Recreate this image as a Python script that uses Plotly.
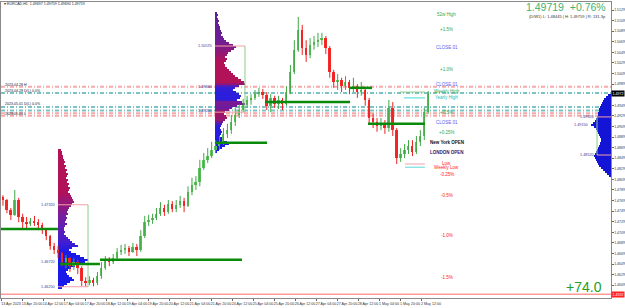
import numpy as np
import plotly.graph_objects as go

# ---------------- data ----------------
symbol_line = "\u25be EURCAD,H1  1.49697 1.49759 1.49690 1.49719"
first_open = 1.4776
close = [1.4770, 1.4751, 1.4742, 1.4770, 1.4738, 1.4728, 1.4725, 1.4730, 1.4728, 1.4723,
         1.4713, 1.4702, 1.4683, 1.4676, 1.4670, 1.4653, 1.4660, 1.4645, 1.4653, 1.4641,
         1.4617, 1.4613, 1.4619, 1.4613, 1.4626, 1.4641, 1.4657, 1.4653, 1.4660, 1.4672,
         1.4676, 1.4679, 1.4672, 1.4681, 1.4676, 1.4702, 1.4728, 1.4732, 1.4736, 1.4744,
         1.4755, 1.4747, 1.4762, 1.4753, 1.4761, 1.4768, 1.4759, 1.4785, 1.4798, 1.4804,
         1.4830, 1.4846, 1.4853, 1.4865, 1.4872, 1.4880, 1.4895, 1.4902, 1.4917, 1.4931,
         1.4940, 1.4950, 1.4959, 1.4963, 1.4970, 1.4974, 1.4968, 1.4948, 1.4963, 1.4951,
         1.4959, 1.4951, 1.4974, 1.5012, 1.5054, 1.5091, 1.5057, 1.5044, 1.5063, 1.5069,
         1.5072, 1.5076, 1.5057, 1.5012, 1.4993, 1.4997, 1.4985, 1.4993, 1.4982, 1.4985,
         1.4974, 1.4978, 1.4959, 1.4925, 1.4917, 1.4910, 1.4914, 1.4906, 1.4944, 1.4902,
         1.4849, 1.4857, 1.4865, 1.4872, 1.4861, 1.4880, 1.4891, 1.4936, 1.49719]
high = [1.4779, 1.4772, 1.4755, 1.4789, 1.4774, 1.4744, 1.4738, 1.4736, 1.4740, 1.4734,
        1.4727, 1.4717, 1.4704, 1.4689, 1.4683, 1.4672, 1.4666, 1.4662, 1.4660, 1.4657,
        1.4645, 1.4624, 1.4626, 1.4623, 1.4634, 1.4653, 1.4664, 1.4662, 1.4668, 1.4679,
        1.4685, 1.4687, 1.4683, 1.4689, 1.4687, 1.4713, 1.4740, 1.4742, 1.4744, 1.4755,
        1.4766, 1.4761, 1.4770, 1.4768, 1.4770, 1.4778, 1.4774, 1.4796, 1.4812, 1.4815,
        1.4846, 1.4859, 1.4868, 1.4880, 1.4883, 1.4891, 1.4906, 1.4914, 1.4931, 1.4944,
        1.4951, 1.4961, 1.4967, 1.4970, 1.4978, 1.4982, 1.4980, 1.4974, 1.4970, 1.4967,
        1.4967, 1.4963, 1.4985, 1.5025, 1.5072, 1.5116, 1.5101, 1.5072, 1.5076, 1.5080,
        1.5086, 1.5086, 1.5080, 1.5061, 1.5016, 1.5008, 1.5001, 1.5004, 1.4997, 1.5001,
        1.4989, 1.4993, 1.4982, 1.4963, 1.4933, 1.4925, 1.4925, 1.4921, 1.4959, 1.4955,
        1.4906, 1.4868, 1.4876, 1.4883, 1.4883, 1.4891, 1.4902, 1.4944, 1.49759]
low = [1.4759, 1.4745, 1.4732, 1.4740, 1.4728, 1.4717, 1.4715, 1.4721, 1.4721, 1.4715,
       1.4706, 1.4694, 1.4676, 1.4668, 1.4660, 1.4645, 1.4641, 1.4634, 1.4638, 1.4630,
       1.4607, 1.4606, 1.4609, 1.4607, 1.4609, 1.4621, 1.4638, 1.4645, 1.4649, 1.4657,
       1.4666, 1.4668, 1.4664, 1.4670, 1.4664, 1.4672, 1.4698, 1.4721, 1.4725, 1.4732,
       1.4740, 1.4740, 1.4744, 1.4747, 1.4747, 1.4755, 1.4747, 1.4757, 1.4779, 1.4789,
       1.4796, 1.4827, 1.4840, 1.4849, 1.4859, 1.4865, 1.4874, 1.4887, 1.4895, 1.4910,
       1.4925, 1.4936, 1.4944, 1.4950, 1.4959, 1.4965, 1.4961, 1.4940, 1.4936, 1.4944,
       1.4942, 1.4940, 1.4948, 1.4970, 1.5008, 1.5050, 1.5044, 1.5031, 1.5038, 1.5054,
       1.5059, 1.5063, 1.5046, 1.5001, 1.4982, 1.4978, 1.4974, 1.4978, 1.4970, 1.4974,
       1.4963, 1.4967, 1.4948, 1.4914, 1.4906, 1.4899, 1.4902, 1.4895, 1.4899, 1.4891,
       1.4838, 1.4842, 1.4849, 1.4857, 1.4853, 1.4857, 1.4872, 1.4883, 1.4933]
open_ = [first_open] + close[:-1]
bar_hours_step = 3  # each candle covers 3 trading hours

x_tick_hours = list(range(0, 321, 16))
x_tick_text = ["13 Apr 2023", "13 Apr 20:00", "14 Apr 12:00", "17 Apr 04:00", "17 Apr 20:00",
               "18 Apr 12:00", "19 Apr 04:00", "19 Apr 20:00", "20 Apr 12:00", "21 Apr 04:00",
               "21 Apr 20:00", "24 Apr 12:00", "25 Apr 04:00", "25 Apr 20:00", "26 Apr 12:00",
               "27 Apr 04:00", "27 Apr 20:00", "28 Apr 12:00", "1 May 04:00", "1 May 20:00",
               "2 May 12:00"]
price_scale_start, price_scale_step, price_scale_count = 1.4609, 0.0020, 27

# volume profiles (volume per price bin, top bin first)
left_prof_top, left_prof_base = 1.4865, 43.4
left_vol = [3, 4, 4, 5, 5, 6, 7, 6, 8, 7, 9, 8, 10, 9, 8, 10, 9, 11, 10, 12,
            11, 10, 12, 13, 14, 15, 16, 14, 13, 11, 10, 9, 10, 8, 9, 8, 7, 9, 7, 6,
            6, 7, 6, 8, 10, 12, 14, 17, 20, 14, 11, 13, 18, 22, 26, 30, 27, 22, 17, 13,
            10, 8, 9, 11, 14, 16, 12, 9, 6, 4]
mid_prof_top, mid_prof_base = 1.5123, 163.0
mid_vol = [2, 3, 2, 3, 4, 3, 4, 5, 5, 6, 7, 6, 8, 9, 11, 14, 18, 21, 19, 16,
           13, 12, 10, 12, 11, 9, 10, 12, 14, 16, 18, 20, 23, 26, 29, 30, 24, 20, 18, 21,
           24, 26, 25, 22, 27, 30, 22, 17, 14, 10, 9, 11, 12, 10, 8, 7, 6, 5, 6, 7,
           6, 5, 7, 9, 12, 14, 10, 7, 4, 2]
right_prof_top = 1.4968
right_vol = [3, 5, 7, 8, 9, 10, 11, 12, 12, 13, 13, 14, 15, 16, 18, 20, 17, 15, 14, 13,
             12, 11, 10, 10, 11, 12, 13, 14, 15, 16, 17, 16, 15, 14, 13, 12, 10, 8, 6, 4, 2]
prof_bin = 0.00038

# point-of-control levels (price, start hour, end hour)
poc_price = [1.4715, 1.4649, 1.4657, 1.4878, 1.4955, 1.4982, 1.4914]
poc_start = [0.0, 45.0, 75.4, 163.0, 201.1, 265.9, 279.6]
poc_end = [43.4, 75.4, 183.6, 202.7, 265.9, 282.7, 323.0]

# value-area boxes (top, bottom, start hour, end hour)
va_top = [1.4761, 1.5061, 1.4927]
va_bot = [1.4606, 1.4936, 1.4855]
va_start = [43.4, 163.0, 454.1]
va_end = [66.3, 185.9, 464.76]

# full-width pivot lines
pink_levels = [1.4984, 1.4934, 1.4929]
teal_levels = [1.4972, 1.4946, 1.4939]
red_level = 1.4592

# level labels column
lvl_text = ["52w High", "+1.5%", "CLOSE 01", "+1.0%", "CLOSE 01", "Weekly High", "Yearly High",
            "+0.5%", "CLOSE 01", "+0.25%", "New York OPEN", "LONDON OPEN", "Low", "Weekly Low",
            "-0.25%", "-0.5%", "-1.0%", "-1.5%"]
lvl_price = [1.5120, 1.5093, 1.5059, 1.5016, 1.4989, 1.4976, 1.4963, 1.4936, 1.4916, 1.4897,
             1.4879, 1.4859, 1.4839, 1.4832, 1.4819, 1.4779, 1.4702, 1.4624]
lvl_color = ["#2FA84F", "#2FA84F", "#5B5BF0", "#2FA84F", "#5B5BF0", "#2FA84F", "#10C0C0",
             "#2FA84F", "#5B5BF0", "#2FA84F", "#111111", "#1A1A7A", "#FF2020", "#FF2020",
             "#FF2020", "#FF2020", "#FF2020", "#FF2020"]

left_line_text = ["2023.04.28 H", "2023.04.28 D(L) 0.0%", "2023.05.01 D(L) 0.0%", "2023.05.01 L"]
left_line_price = [1.4988, 1.4976, 1.4951, 1.4932]

prof_label_text = ["1.47320", "1.46720", "1.46250", "1.50570", "1.49840", "1.49200",
                   "1.49520", "1.49150", "1.48520"]
prof_label_price = [1.4761, 1.4653, 1.4606, 1.5061, 1.4984, 1.4938, 1.4927, 1.4912, 1.4855]
prof_label_hour = [42.6, 42.6, 42.6, 162.3, 162.3, 162.3, 453.4, 448.8, 453.4]

# ---------------- figure ----------------
X_MAX = 464.76
Y_MIN, Y_MAX = 1.45848, 1.51442
PX_PER_HOUR = 1.3125
FONT = "Liberation Sans"

fig = go.Figure()

bar_hours = np.arange(len(close)) * bar_hours_step + bar_hours_step / 2


def grad(n, stops):
    out = []
    for i in range(n):
        f = i / max(n - 1, 1)
        for (f0, c0), (f1, c1) in zip(stops[:-1], stops[1:]):
            if f0 <= f <= f1:
                t = 0 if f1 == f0 else (f - f0) / (f1 - f0)
                cc = [int(round(a + (b - a) * t)) for a, b in zip(c0, c1)]
                out.append("rgb(%d,%d,%d)" % tuple(cc))
                break
    return out


crim, purp, blue = (178, 18, 88), (112, 30, 165), (26, 26, 232)
left_cols = grad(len(left_vol), [(0, crim), (0.3, crim), (0.5, purp), (0.66, (70, 30, 205)),
                                 (0.74, blue), (1, blue)])
mid_cols = grad(len(mid_vol), [(0, (92, 32, 150)), (0.2, (110, 30, 150)), (0.3, (150, 22, 112)),
                               (0.35, crim), (0.5, crim), (0.53, (50, 30, 215)), (0.62, (40, 30, 222)),
                               (0.64, (128, 26, 142)), (0.68, (105, 26, 165)), (0.71, (160, 20, 100)),
                               (0.77, (150, 22, 112)), (0.81, (40, 30, 222)), (1, blue)])
right_cols = ["rgb(20,20,215)"] * len(right_vol)

for top, vol, base, cols, sign in [
        (left_prof_top, left_vol, left_prof_base, left_cols, 1),
        (mid_prof_top, mid_vol, mid_prof_base, mid_cols, 1),
        (right_prof_top, right_vol, X_MAX, right_cols, -1)]:
    levels = top - np.arange(len(vol)) * prof_bin
    fig.add_trace(go.Bar(
        y=levels, x=[sign * v / PX_PER_HOUR for v in vol], base=base, orientation="h",
        width=prof_bin, marker=dict(color=cols, line=dict(width=0)), showlegend=False,
        hoverinfo="skip"))

# candles: wicks + bodies
o = np.array(open_)
c = np.array(close)
h = np.array(high)
l = np.array(low)
up = c >= o
for mask, wick_col, body_col in [(up, "#3FA845", "#5FC35F"), (~up, "#F02020", "#F52A2A")]:
    wx, wy = [], []
    for xi, hi, li in zip(bar_hours[mask], h[mask], l[mask]):
        wx += [xi, xi, None]
        wy += [li, hi, None]
    fig.add_trace(go.Scatter(x=wx, y=wy, mode="lines", line=dict(color=wick_col, width=1),
                             showlegend=False, hoverinfo="skip"))
    bot = np.minimum(o[mask], c[mask])
    ht = np.maximum(np.abs(c[mask] - o[mask]), 0.00008)
    fig.add_trace(go.Bar(x=bar_hours[mask], y=ht, base=bot, width=1.45,
                         marker=dict(color=body_col, line=dict(width=0)),
                         showlegend=False, hoverinfo="skip"))

shapes = []
dd = "4px,2px,1px,2px"
for lv in pink_levels:
    shapes.append(dict(type="line", xref="paper", x0=0, x1=1, yref="y", y0=lv, y1=lv,
                       line=dict(color="#F6A9A9", width=2, dash=dd), layer="below"))
for lv in teal_levels:
    shapes.append(dict(type="line", xref="paper", x0=0, x1=1, yref="y", y0=lv, y1=lv,
                       line=dict(color="#7CC4C4", width=2, dash=dd), layer="below"))
shapes.append(dict(type="line", xref="paper", x0=0, x1=1, yref="y", y0=red_level, y1=red_level,
                   line=dict(color="#FF9A9A", width=1.5)))

for t, b, s, e in zip(va_top, va_bot, va_start, va_end):
    shapes.append(dict(type="line", x0=s, x1=e, y0=t, y1=t, line=dict(color="#F4A0A8", width=1)))
    shapes.append(dict(type="line", x0=s, x1=e, y0=b, y1=b, line=dict(color="#F4A0A8", width=1)))
    side = e if e < X_MAX - 1 else s
    shapes.append(dict(type="line", x0=side, x1=side, y0=t, y1=b,
                       line=dict(color="#8CCB8C", width=1)))

for p, s, e in zip(poc_price, poc_start, poc_end):
    shapes.append(dict(type="line", x0=s, x1=e, y0=p, y1=p, line=dict(color="#0A8A0A", width=2.5)))

# short session lines near the level column
shapes.append(dict(type="line", x0=307.0, x1=323.0, y0=1.4963, y1=1.4963, line=dict(color="#40D8D8", width=1)))
shapes.append(dict(type="line", x0=304.0, x1=323.0, y0=1.4974, y1=1.4974, line=dict(color="#8CCB8C", width=1)))
shapes.append(dict(type="line", x0=307.8, x1=323.0, y0=1.4838, y1=1.4838, line=dict(color="#F4A0A8", width=1)))
shapes.append(dict(type="line", x0=307.8, x1=323.0, y0=1.4832, y1=1.4832, line=dict(color="#60D8D8", width=1)))

ann = []
for t, p, col in zip(lvl_text, lvl_price, lvl_color):
    bold = t in ("New York OPEN", "LONDON OPEN")
    ann.append(dict(x=339.8, y=p, text=("<b>%s</b>" % t) if bold else t, showarrow=False,
                    font=dict(size=4.5, color=col, family=FONT), xanchor="center", yanchor="middle"))
for t, p in zip(left_line_text, left_line_price):
    ann.append(dict(x=0.003, xref="paper", y=p, text=t, showarrow=False,
                    font=dict(size=3.6, color="#222222", family=FONT), xanchor="left", yanchor="middle"))
for t, p, hr in zip(prof_label_text, prof_label_price, prof_label_hour):
    ann.append(dict(x=hr, y=p, text=t, showarrow=False,
                    font=dict(size=3.8, color="#3A3A9A", family=FONT), xanchor="right", yanchor="middle"))

ann.append(dict(xref="paper", yref="paper", x=0.002, y=0.993, text=symbol_line, showarrow=False,
                font=dict(size=3.6, color="#222222", family=FONT), xanchor="left", yanchor="middle"))
ann.append(dict(xref="paper", yref="paper", x=0.9955, y=0.982, text="1.49719  +0.76%", showarrow=False,
                font=dict(size=10.5, color="#3CB371", family=FONT), xanchor="right", yanchor="middle"))
ann.append(dict(xref="paper", yref="paper", x=0.9945, y=0.952,
                text="(D/W1) L: 1.48445 | H: 1.49759 | R: 131.3p", showarrow=False,
                font=dict(size=4.0, color="#333333", family=FONT), xanchor="right", yanchor="middle"))
ann.append(dict(xref="paper", yref="paper", x=0.9885, y=0.037, text="+74.0", showarrow=False,
                font=dict(size=14, color="#22A022", family=FONT), xanchor="right", yanchor="middle"))
ann.append(dict(xref="paper", x=1.0, y=close[-1], text="1.4972", showarrow=False, bgcolor="#000000",
                font=dict(size=3.6, color="#FFFFFF", family=FONT), xanchor="left", yanchor="middle",
                borderpad=0.5))
ann.append(dict(xref="paper", x=1.0, y=red_level, text="1.4592", showarrow=False, bgcolor="#FF2020",
                font=dict(size=3.6, color="#FFFFFF", family=FONT), xanchor="left", yanchor="middle",
                borderpad=0.5))

# price scale ticks, leaving room for the two price boxes
scale_vals = [price_scale_start + i * price_scale_step for i in range(price_scale_count)]
scale_vals = [v for v in scale_vals if abs(v - close[-1]) > 0.0012 and abs(v - red_level) > 0.0012]

fig.update_layout(
    width=625, height=308, margin=dict(l=1, r=14, t=2, b=10),
    paper_bgcolor="white", plot_bgcolor="white", barmode="overlay", bargap=0,
    shapes=shapes, annotations=ann, showlegend=False,
    xaxis=dict(range=[0, X_MAX], showgrid=False, zeroline=False,
               tickmode="array", tickvals=x_tick_hours, ticktext=x_tick_text, tickangle=0,
               ticks="outside", ticklen=2, tickcolor="#666", ticklabelshift=10,
               ticklabelstandoff=0,
               tickfont=dict(size=3.6, color="#333333", family=FONT),
               showline=True, linecolor="#8A8A8A", linewidth=1, mirror=True, automargin=False),
    yaxis=dict(range=[Y_MIN, Y_MAX], side="right", showgrid=False, zeroline=False,
               tickmode="array", tickvals=scale_vals, ticktext=["%.4f" % v for v in scale_vals],
               ticks="outside", ticklen=1.5, tickcolor="#666", ticklabelstandoff=0,
               tickfont=dict(size=3.5, color="#333333", family=FONT),
               showline=True, linecolor="#8A8A8A", linewidth=1, mirror=True, automargin=False),
)

fig.write_html("out.html")
